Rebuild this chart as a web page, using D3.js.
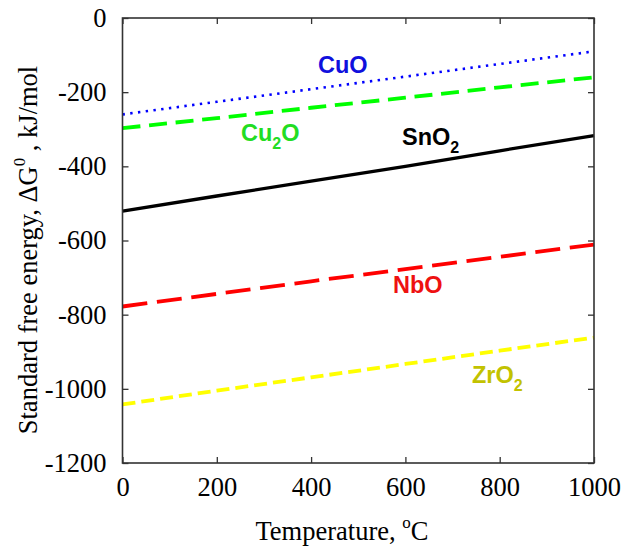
<!DOCTYPE html>
<html>
<head>
<meta charset="utf-8">
<script src="https://cdn.jsdelivr.net/npm/d3@7"></script>
<style>
  body { margin: 0; background: #fff; }
</style>
</head>
<body>
<div id="chart"></div>
<script>
// data
const temps = [0, 200, 400, 600, 800, 1000];
const cuO = [-260, -226, -192, -158, -124, -90];
const cu2O = [-297, -270, -242, -215, -187, -160];
const snO2 = [-521, -480, -440, -400, -358, -317];
const nbO = [-778, -744, -710, -677, -644, -611];
const zrO2 = [-1042, -1005, -969, -933, -897, -862];
const xTicks = [0, 200, 400, 600, 800, 1000];
const yTicks = [0, -200, -400, -600, -800, -1000, -1200];

const width = 623;
const height = 549;
const marginTop = 18;
const marginRight = 29;
const marginBottom = 86;
const marginLeft = 122.5;

const series = [
    { name: 'CuO', values: cuO, stroke: '#0000ff', dash: '2.4,5.4', width: 2.6, cap: 'butt',
      label: ['CuO'], lx: 318, ly: 73, color: '#1010dd' },
    { name: 'Cu2O', values: cu2O, stroke: '#00ff00', dash: '18,8.7', width: 3.8, cap: 'butt',
      label: ['Cu', '2', 'O'], lx: 241, ly: 141, color: '#22dd22' },
    { name: 'SnO2', values: snO2, stroke: '#000000', dash: null, width: 3.3, cap: 'butt',
      label: ['SnO', '2'], lx: 402, ly: 145, color: '#000000' },
    { name: 'NbO', values: nbO, stroke: '#ff0000', dash: '25,9.7', width: 3.8, cap: 'butt',
      label: ['NbO'], lx: 393, ly: 293, color: '#ee1111' },
    { name: 'ZrO2', values: zrO2, stroke: '#ffff00', dash: '13,6', width: 3.8, cap: 'butt',
      label: ['ZrO', '2'], lx: 472, ly: 383, color: '#c2c200' },
];

const svg = d3.select('#chart')
    .append('svg')
    .attr('width', width)
    .attr('height', height)
    .attr('viewBox', [0, 0, width, height]);

const x = d3.scaleLinear([0, 1000], [marginLeft, width - marginRight]);
const y = d3.scaleLinear([-1200, 0], [height - marginBottom, marginTop]);

const serif = '"Liberation Serif", "Times New Roman", serif';
const sans = '"Liberation Sans", Arial, sans-serif';

// LINES
const line = d3.line()
    .x((d, i) => x(temps[i]))
    .y((d) => y(d));

svg.append('g')
    .selectAll('path')
    .data(series)
    .join('path')
    .attr('fill', 'none')
    .attr('stroke', (s) => s.stroke)
    .attr('stroke-width', (s) => s.width)
    .attr('stroke-dasharray', (s) => s.dash)
    .attr('stroke-linecap', (s) => s.cap)
    .attr('d', (s) => line(s.values));

// SERIES LABELS (subscript digits)
svg.append('g')
    .attr('font-family', sans)
    .attr('font-weight', 'bold')
    .attr('font-size', 23.5)
    .selectAll('text')
    .data(series)
    .join('text')
    .attr('x', (s) => s.lx)
    .attr('y', (s) => s.ly)
    .attr('fill', (s) => s.color)
    .each(function (s) {
        const t = d3.select(this);
        s.label.forEach((part, i) => {
            const sub = /^\d$/.test(part);
            t.append('tspan')
                .attr('font-size', sub ? 16 : 23.5)
                .attr('dy', sub ? 8 : (i > 0 ? -8 : 0))
                .text(part);
        });
    });

// AXES (ticks inward, mirrored on all four sides)
const tickLen = 6;
const fmt = (d) => String(d);
const axisStyle = (g) => {
    g.selectAll('.domain').remove();
    g.selectAll('.tick line').attr('stroke', '#333').attr('stroke-width', 1.3);
    g.selectAll('.tick text')
        .attr('font-family', serif)
        .attr('font-size', 26.5)
        .attr('fill', '#000');
};

svg.append('g')
    .attr('transform', `translate(0,${height - marginBottom})`)
    .call(d3.axisBottom(x).tickValues(xTicks).tickSize(-tickLen).tickPadding(14).tickFormat(fmt))
    .call(axisStyle);

svg.append('g')
    .attr('transform', `translate(0,${marginTop})`)
    .call(d3.axisTop(x).tickValues(xTicks).tickSize(-tickLen).tickFormat(''))
    .call(axisStyle);

svg.append('g')
    .attr('transform', `translate(${marginLeft},0)`)
    .call(d3.axisLeft(y).tickValues(yTicks).tickSize(-tickLen).tickPadding(16).tickFormat(fmt))
    .call(axisStyle);

svg.append('g')
    .attr('transform', `translate(${width - marginRight},0)`)
    .call(d3.axisRight(y).tickValues(yTicks).tickSize(-tickLen).tickFormat(''))
    .call(axisStyle);

// FRAME
svg.append('rect')
    .attr('x', marginLeft)
    .attr('y', marginTop)
    .attr('width', width - marginLeft - marginRight)
    .attr('height', height - marginTop - marginBottom)
    .attr('fill', 'none')
    .attr('stroke', '#333')
    .attr('stroke-width', 1.6);

// AXIS TITLES
const xTitle = svg.append('text')
    .attr('x', 342)
    .attr('y', 540)
    .attr('text-anchor', 'middle')
    .attr('font-family', serif)
    .attr('font-size', 26.5);
xTitle.append('tspan').text('Temperature, ');
xTitle.append('tspan').attr('font-size', 17).attr('dy', -12).text('o');
xTitle.append('tspan').attr('dy', 12).text('C');

const yTitle = svg.append('text')
    .attr('transform', `translate(37,250) rotate(-90)`)
    .attr('text-anchor', 'middle')
    .attr('font-family', serif)
    .attr('font-size', 26.5);
yTitle.append('tspan').text('Standard free energy, ΔG');
yTitle.append('tspan').attr('font-size', 17).attr('dy', -12).text('0');
yTitle.append('tspan').attr('dy', 12).text(' , kJ/mol');
</script>
</body>
</html>
